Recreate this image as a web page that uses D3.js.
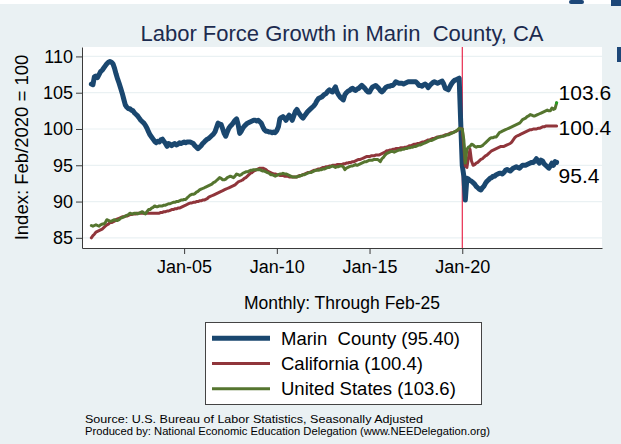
<!DOCTYPE html>
<html>
<head>
<meta charset="utf-8">
<script src="https://cdn.jsdelivr.net/npm/d3@7"></script>
<style>
body { margin: 0; background: #ffffff; }
svg { display: block; font-family: "Liberation Sans", Arial, Helvetica, sans-serif; }
</style>
</head>
<body>
<svg id="chart" width="621" height="444"></svg>
<script>
var svgw = 621;
var svgh = 444;
var plot = {left: 82, right: 602, top: 47, bottom: 248};

// monthly, Jan 2000 .. Feb 2025
var firstMonth = new Date(2000, 0, 1);
var lastMonth = new Date(2025, 1, 1);
var months = d3.timeMonth.range(firstMonth, d3.timeMonth.offset(lastMonth, 1));

var marin = [
    106.2, 106.1, 107.2, 107.3, 107.1, 107.5, 107.9, 108.1, 108.4, 108.7, 109.0, 109.2,
    109.3, 109.2, 109.0, 108.4, 107.6, 106.9, 106.3, 105.6, 104.9, 104.1, 103.3, 103.0,
    102.8, 102.8, 102.6, 102.5, 102.2, 102.0, 101.8, 101.5, 101.2, 101.0, 100.8, 100.5,
    100.1, 99.6, 99.2, 98.9, 98.6, 98.3, 98.1, 98.3, 98.2, 98.5, 98.6, 98.3,
    98.0, 97.6, 98.0, 97.9, 97.7, 97.9, 98.0, 97.8, 97.9, 98.1, 98.0, 98.1,
    98.2, 98.1, 98.2, 98.2, 98.2, 98.1, 98.0, 97.7, 97.5, 97.3, 97.5, 97.7,
    98.0, 98.2, 98.4, 98.6, 98.7, 98.9, 99.1, 99.3, 99.6, 100.2, 100.8, 100.7,
    100.6, 100.0, 99.4, 99.0, 99.6, 100.1, 100.4, 100.6, 100.9, 101.2, 101.4, 100.6,
    99.4, 99.7, 100.1, 100.4, 100.6, 100.8, 100.9, 101.0, 101.1, 101.2, 101.2, 101.1,
    101.2, 101.0, 100.8, 100.3, 99.9, 99.7, 99.7, 99.6, 99.6, 99.5, 99.6, 99.5,
    99.8, 100.3, 101.4, 101.6, 101.7, 101.5, 101.2, 101.6, 101.9, 101.6, 101.2, 101.8,
    102.4, 102.7, 102.3, 102.0, 101.7, 101.5, 101.8, 102.1, 102.4, 102.6, 102.8, 103.0,
    103.2, 103.5, 103.9, 104.2, 104.3, 104.4, 104.6, 104.8, 104.9, 105.2, 105.4, 105.2,
    105.1, 105.5, 105.8, 105.1, 104.7, 104.4, 104.2, 104.0, 104.7, 105.0, 105.2, 105.3,
    105.5, 105.6, 105.4, 105.3, 105.5, 105.6, 105.8, 106.0, 105.8, 105.6, 105.3, 105.1,
    105.1, 105.5, 105.8, 105.9, 106.0, 105.8, 105.6, 105.3, 105.1, 105.3, 105.6, 105.8,
    105.9, 105.9, 106.0, 106.0, 106.2, 106.5, 106.4, 106.3, 106.3, 106.3, 106.2, 106.3,
    106.4, 106.5, 106.5, 106.5, 106.5, 106.5, 106.5, 106.3, 106.0, 106.0, 105.9, 106.1,
    106.2, 106.0, 105.7, 106.0, 106.2, 106.4, 106.5, 106.4, 106.3, 106.4, 106.5, 106.6,
    106.2, 105.6, 105.5, 105.4, 105.8, 106.2, 106.5, 106.7, 106.8, 106.9, 107.0, 101.0,
    95.0, 93.5, 90.2, 93.2, 93.1, 92.9, 92.8, 92.6, 92.4, 92.1, 91.9, 91.7,
    91.6, 91.9, 92.1, 92.5, 92.8, 93.0, 93.2, 93.3, 93.5, 93.5, 93.7, 93.8,
    93.9, 93.9, 93.8, 94.0, 94.3, 94.4, 94.3, 94.2, 94.4, 94.6, 94.7, 94.8,
    94.7, 94.6, 94.8, 95.0, 95.0, 95.0, 95.1, 95.2, 95.3, 95.4, 95.4, 95.6,
    95.9, 95.5, 95.3, 95.7, 95.6, 95.2, 95.0, 94.8, 94.6, 94.9, 95.3, 95.0,
    95.5, 95.4
];

var california = [
    85.0, 85.3, 85.5, 85.8, 85.9, 86.0, 86.1, 86.2, 86.4, 86.6, 86.8, 86.9,
    87.1, 87.1, 87.2, 87.3, 87.5, 87.6, 87.7, 87.8, 87.9, 87.9, 88.0, 88.0,
    88.1, 88.2, 88.2, 88.3, 88.3, 88.3, 88.4, 88.4, 88.4, 88.4, 88.4, 88.4,
    88.4, 88.4, 88.4, 88.4, 88.4, 88.4, 88.4, 88.4, 88.4, 88.5, 88.5, 88.6,
    88.6, 88.7, 88.7, 88.8, 88.9, 88.9, 89.0, 89.0, 89.1, 89.1, 89.2, 89.3,
    89.4, 89.5, 89.6, 89.7, 89.8, 89.8, 89.9, 89.9, 90.0, 90.0, 90.1, 90.1,
    90.2, 90.2, 90.3, 90.4, 90.6, 90.7, 90.8, 90.9, 91.0, 91.1, 91.2, 91.3,
    91.4, 91.5, 91.6, 91.7, 91.8, 91.9, 92.0, 92.1, 92.2, 92.3, 92.5, 92.7,
    92.8, 92.9, 93.0, 93.2, 93.3, 93.5, 93.7, 93.9, 94.0, 94.2, 94.3, 94.4,
    94.5, 94.6, 94.6, 94.6, 94.5, 94.4, 94.2, 94.1, 94.0, 93.9, 93.8, 93.8,
    93.7, 93.7, 93.6, 93.6, 93.6, 93.5, 93.5, 93.5, 93.4, 93.4, 93.4, 93.4,
    93.4, 93.4, 93.5, 93.6, 93.6, 93.7, 93.8, 93.9, 94.0, 94.0, 94.1, 94.2,
    94.3, 94.3, 94.4, 94.5, 94.5, 94.6, 94.7, 94.7, 94.8, 94.8, 94.9, 94.9,
    95.0, 95.0, 95.0, 95.1, 95.1, 95.1, 95.1, 95.2, 95.2, 95.3, 95.3, 95.4,
    95.4, 95.5, 95.5, 95.6, 95.7, 95.8, 95.8, 95.9, 96.0, 96.1, 96.2, 96.2,
    96.2, 96.3, 96.3, 96.3, 96.4, 96.4, 96.4, 96.5, 96.6, 96.7, 96.8, 97.0,
    97.0, 97.1, 97.1, 97.2, 97.2, 97.3, 97.3, 97.3, 97.4, 97.4, 97.4, 97.5,
    97.5, 97.6, 97.7, 97.7, 97.8, 97.9, 97.9, 98.0, 98.0, 98.1, 98.2, 98.2,
    98.3, 98.4, 98.5, 98.5, 98.6, 98.7, 98.7, 98.8, 98.9, 98.9, 99.0, 99.0,
    99.1, 99.2, 99.2, 99.3, 99.4, 99.5, 99.5, 99.6, 99.7, 99.8, 100.0, 100.1,
    100.0, 97.6, 94.9, 94.7, 96.0, 97.2, 95.6, 95.0, 95.1, 95.3, 95.4, 95.6,
    95.8, 95.9, 96.1, 96.3, 96.4, 96.6, 96.8, 97.0, 97.1, 97.2, 97.3, 97.4,
    97.5, 97.6, 97.6, 97.6, 97.7, 97.8, 97.9, 98.0, 98.2, 98.5, 98.8, 99.0,
    99.1, 99.2, 99.3, 99.4, 99.5, 99.6, 99.7, 99.8, 99.9, 99.9, 100.0, 100.0,
    100.0, 100.1, 100.1, 100.2, 100.3, 100.3, 100.4, 100.4, 100.4, 100.4, 100.4, 100.4,
    100.4, 100.4
];

var unitedStates = [
    86.7, 86.6, 86.7, 86.8, 86.7, 86.6, 86.8, 86.9, 86.9, 87.1, 87.5, 87.4,
    87.3, 87.3, 87.4, 87.5, 87.4, 87.4, 87.5, 87.7, 87.8, 87.9, 88.0, 88.1,
    88.2, 88.4, 88.3, 88.3, 88.4, 88.4, 88.3, 88.4, 88.5, 88.6, 88.4, 88.3,
    88.6, 88.9, 88.9, 89.1, 89.2, 89.4, 89.3, 89.3, 89.4, 89.4, 89.4, 89.5,
    89.5, 89.6, 89.7, 89.7, 89.8, 89.9, 89.9, 90.0, 90.0, 90.1, 90.2, 90.2,
    90.3, 90.3, 90.5, 90.7, 90.9, 91.0, 91.0, 91.1, 91.3, 91.4, 91.6, 91.7,
    91.8, 91.9, 92.0, 92.1, 92.2, 92.3, 92.4, 92.6, 92.7, 92.9, 93.1, 93.3,
    93.2, 93.0, 93.0, 93.1, 93.3, 93.4, 93.5, 93.4, 93.3, 93.5, 93.8, 93.7,
    93.6, 93.7, 93.9, 94.0, 94.1, 94.1, 94.2, 94.3, 94.3, 94.4, 94.4, 94.4,
    94.4, 94.4, 94.3, 94.2, 94.2, 94.1, 94.0, 93.9, 93.7, 93.7, 93.6, 93.5,
    93.6, 93.7, 93.8, 93.8, 93.9, 93.8, 93.8, 93.7, 93.6, 93.5, 93.4, 93.4,
    93.4, 93.4, 93.5, 93.5, 93.6, 93.7, 93.7, 93.8, 93.9, 94.0, 94.0, 94.1,
    94.2, 94.3, 94.3, 94.3, 94.4, 94.4, 94.5, 94.5, 94.6, 94.7, 94.7, 94.8,
    94.9, 94.8, 94.7, 94.8, 94.8, 94.9, 94.9, 94.8, 94.4, 94.6, 94.7, 94.8,
    94.9, 94.9, 95.0, 95.1, 95.0, 95.1, 95.2, 95.3, 95.4, 95.5, 95.5, 95.6,
    95.7, 95.7, 95.7, 95.8, 95.8, 95.8, 95.7, 95.5, 95.9, 96.1, 96.4, 96.6,
    96.7, 96.8, 96.9, 96.9, 96.8, 96.9, 97.0, 97.1, 97.1, 97.2, 97.2, 97.3,
    97.3, 97.4, 97.4, 97.5, 97.5, 97.6, 97.6, 97.7, 97.8, 97.8, 97.9, 98.0,
    98.1, 98.2, 98.3, 98.4, 98.4, 98.5, 98.6, 98.7, 98.8, 98.9, 98.9, 99.0,
    99.0, 99.1, 99.2, 99.2, 99.3, 99.4, 99.5, 99.6, 99.7, 99.9, 100.1, 100.0,
    100.0, 98.5, 95.3, 97.2, 97.5, 97.6, 97.9, 97.8, 97.6, 97.5, 97.6, 97.6,
    97.6, 97.7, 97.9, 98.1, 98.3, 98.5, 98.7, 98.8, 98.8, 98.9, 98.9, 99.2,
    99.5, 99.6, 99.7, 99.8, 99.9, 100.0, 100.1, 100.2, 100.3, 100.4, 100.5, 100.6,
    100.7, 100.8, 101.0, 101.3, 101.4, 101.5, 101.7, 101.8, 102.0, 101.9, 101.8, 101.8,
    101.9, 102.0, 102.1, 102.2, 102.3, 102.4, 102.5, 102.6, 102.5, 102.5, 102.9, 102.7,
    102.8, 103.6
];

var seriesNames = ["Marin  County (95.40)", "California (100.4)", "United States (103.6)"];
var endLabels = ["95.4", "100.4", "103.6"];
var yTicks = [85, 90, 95, 100, 105, 110];
var xTickDates = [new Date(2005, 0, 1), new Date(2010, 0, 1), new Date(2015, 0, 1), new Date(2020, 0, 1)];
var markerDate = new Date(2020, 0, 1);
var notes = ["Source: U.S. Bureau of Labor Statistics, Seasonally Adjusted",
    "Produced by: National Economic Education Delegation (www.NEEDelegation.org)"];

// style per series (Stata s2color-ish)
var colors = ["#1a476f", "#90353b", "#55752f"];
var widths = [5, 3, 3];
var labelDy = [20.5, 9, -3];
var noteWidths = [338, 405];

var svg = d3.select("#chart");

let x = d3.scaleTime()
    .domain([new Date(1999, 6, 1), new Date(2027, 6, 15)])
    .range([plot.left, plot.right]);

let y = d3.scaleLinear()
    .domain([83.6, 111.3])
    .range([plot.bottom, plot.top]);

// background
svg.append("rect").attr("width", svgw).attr("height", svgh).attr("fill", "#ffffff");
svg.append("rect").attr("y", 4).attr("width", svgw).attr("height", svgh - 4).attr("fill", "#eaf1f3");
// bits of the neighbouring slide at the top right
svg.append("rect").attr("x", 569).attr("y", 0).attr("width", 15).attr("height", 4).attr("rx", 2).attr("fill", "#1d4778");
svg.append("rect").attr("x", 611).attr("y", 0).attr("width", 10).attr("height", 6).attr("fill", "#1d4778");
svg.append("rect").attr("x", 617).attr("y", 47).attr("width", 4).attr("height", 15).attr("fill", "#1d4778");

svg.append("rect")
    .attr("x", plot.left).attr("y", plot.top)
    .attr("width", plot.right - plot.left).attr("height", plot.bottom - plot.top)
    .attr("fill", "#ffffff");

// grid
svg.append("g")
    .selectAll("line")
    .data(yTicks)
    .join("line")
    .attr("x1", plot.left).attr("x2", plot.right)
    .attr("y1", d => y(d)).attr("y2", d => y(d))
    .attr("stroke", "#eaf1f3")
    .attr("stroke-width", 1.2);

// axes
var yAxis = svg.append("g")
    .attr("transform", "translate(" + plot.left + ",0)")
    .call(d3.axisLeft(y).tickValues(yTicks).tickSize(6).tickSizeOuter(0).tickPadding(3));
var xAxis = svg.append("g")
    .attr("transform", "translate(0," + plot.bottom + ")")
    .call(d3.axisBottom(x).tickValues(xTickDates).tickFormat(d3.timeFormat("%b-%y")).tickSize(6).tickSizeOuter(0).tickPadding(6));

[yAxis, xAxis].forEach(function(a){
    a.attr("color", "#3a3a3a")
    a.selectAll("text")
        .attr("fill", "#000")
        .style("font-size", "18px")
        .style("font-family", "'Liberation Sans', Arial, sans-serif");
})

// Feb 2020 marker line
svg.append("line")
    .attr("x1", x(markerDate)).attr("x2", x(markerDate))
    .attr("y1", plot.top).attr("y2", plot.bottom)
    .attr("stroke", "#e3002b")
    .attr("stroke-width", 1);

var series = [marin, california, unitedStates];

let line = d3.line()
    .x((d, i) => x(months[i]))
    .y(d => y(d));

svg.append("g")
    .selectAll("path")
    .data(series)
    .join("path")
    .attr("d", d => line(d))
    .attr("fill", "none")
    .attr("stroke", (d, i) => colors[i])
    .attr("stroke-width", (d, i) => widths[i])
    .attr("stroke-linejoin", "round")
    .attr("stroke-linecap", "round");

// little marker at the end of the US line
svg.append("circle")
    .attr("cx", x(months[unitedStates.length - 1]))
    .attr("cy", y(unitedStates[unitedStates.length - 1]))
    .attr("r", 1.6)
    .attr("fill", "#22a022");

// last value labels
svg.append("g")
    .selectAll("text")
    .data(series)
    .join("text")
    .attr("x", (d) => x(months[d.length - 1]) + 2)
    .attr("y", (d, i) => y(d[d.length - 1]) + labelDy[i])
    .text((d, i) => endLabels[i])
    .attr("fill", "#000")
    .style("font-size", "21px");

// titles
svg.append("text")
    .attr("x", (plot.left + plot.right) / 2).attr("y", 41)
    .attr("text-anchor", "middle")
    .attr("xml:space", "preserve")
    .style("white-space", "pre")
    .style("font-size", "22px")
    .attr("fill", "#1c2b4f")
    .text("Labor Force Growth in Marin  County, CA");

svg.append("text")
    .attr("transform", "translate(28," + ((plot.top + plot.bottom) / 2) + ") rotate(-90)")
    .attr("text-anchor", "middle")
    .style("font-size", "18.5px")
    .attr("fill", "#000")
    .text("Index: Feb/2020 = 100");

svg.append("text")
    .attr("x", (plot.left + plot.right) / 2).attr("y", 309)
    .attr("text-anchor", "middle")
    .style("font-size", "17.5px")
    .attr("fill", "#000")
    .text("Monthly: Through Feb-25");

// legend
var legend = svg.append("g");
legend.append("rect")
    .attr("x", 205.5).attr("y", 322.5)
    .attr("width", 276).attr("height", 82)
    .attr("fill", "#ffffff")
    .attr("stroke", "#444")
    .attr("stroke-width", 1);

var rows = legend.selectAll("g.row")
    .data(seriesNames)
    .join("g")
    .attr("class", "row")
    .attr("transform", (d, i) => "translate(0," + (338.3 + i * 25.2) + ")");
rows.append("line")
    .attr("x1", 212).attr("x2", 270)
    .attr("stroke", (d, i) => colors[i])
    .attr("stroke-width", (d, i) => widths[i]);
rows.append("text")
    .attr("x", 281).attr("y", 6.3)
    .attr("xml:space", "preserve")
    .style("white-space", "pre")
    .style("font-size", "18.5px")
    .attr("fill", "#000")
    .text(d => d);

// source note
svg.append("g")
    .selectAll("text")
    .data(notes)
    .join("text")
    .attr("x", 85)
    .attr("y", (d, i) => 422.5 + i * 12)
    .attr("textLength", (d, i) => noteWidths[i])
    .attr("lengthAdjust", "spacingAndGlyphs")
    .style("font-size", "10.8px")
    .attr("fill", "#000")
    .text(d => d);
</script>
</body>
</html>
